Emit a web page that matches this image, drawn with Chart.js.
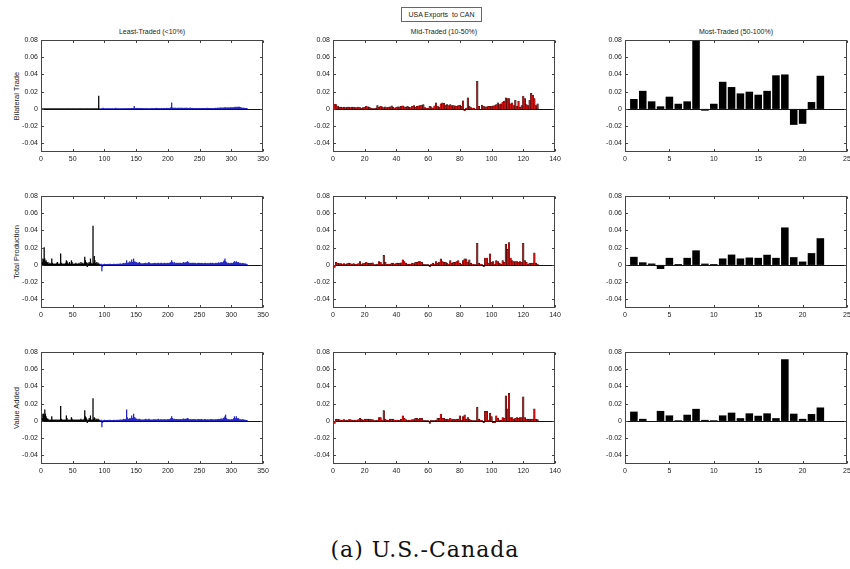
<!DOCTYPE html>
<html>
<head>
<meta charset="utf-8">
<title>USA Exports to CAN</title>
<script src="https://cdn.jsdelivr.net/npm/chart.js@4.4.0/dist/chart.umd.min.js"></script>
<style>
  body { margin: 0; width: 850px; height: 569px; background: #fff; position: relative; overflow: hidden;
         font-family: 'Liberation Sans', Arial, sans-serif; }
  canvas { position: absolute; }
  .txt { position: absolute; white-space: nowrap; color: #222; font-size: 7px; transform: translate(-50%, -50%); }
  .ylab { transform: translate(-50%, -50%) rotate(-90deg); font-size: 7.5px; }
  .legendBox { position: absolute; left: 401px; top: 7px; width: 79px; height: 13px; border: 1px solid #666;
               font-size: 7px; color: #222; text-align: center; line-height: 13px; }
  .caption { position: absolute; left: 0; width: 850px; top: 537px; text-align: center;
             font-family: 'DejaVu Serif', serif; font-size: 22px; letter-spacing: 1px; color: #111; }
</style>
</head>
<body>
<div class="legendBox">USA Exports &nbsp;to CAN</div>
<div class="txt" style="left:152px; top:31px;">Least-Traded (&lt;10%)</div>
<div class="txt" style="left:444px; top:31px;">Mid-Traded (10-50%)</div>
<div class="txt" style="left:736px; top:31px;">Most-Traded (50-100%)</div>
<div class="txt ylab" style="left:16px; top:96px;">Bilateral Trade</div>
<div class="txt ylab" style="left:16px; top:252px;">Total Production</div>
<div class="txt ylab" style="left:16px; top:408px;">Value Added</div>
<div class="caption">(a) U.S.-Canada</div>
<script>
// all bar values below are in thousandths (x 0.001)
const yTicks = [-0.04, -0.02, 0, 0.02, 0.04, 0.06, 0.08];
const leastTicks = [0, 50, 100, 150, 200, 250, 300, 350];
const midTicks = [0, 20, 40, 60, 80, 100, 120, 140];
const mostTicks = [0, 5, 10, 15, 20, 25];
const leastBlack = 92; // first sectors in the least-traded group are drawn black, the rest blue

const leastTrade = [
  0,0,0,0,0, 0,0,0,0,0, 0,0,0,0,0, 0,0,0,0,0, 0,0,0,0,0,
  0,0,0,0,0, 0,0,0,0,0, 0,0,0,0,0, 0,0,0,0,0, 0,0,0,0,0,
  0,0,0,0,0, 0,0,0,0,0, 0,0,0,0,0, 0,0,0,0,0, 0,0,0,0,0,
  0,0,0,0,0, 0,0,0,0,0, 0,0,0,0,0, 15,0,0,0,0.2, 0.3,0.5,1,0.3,0.2,
  0.2,0.2,0.3,0.2,0.2, 0.3,0.2,0.2,0.3,0.2, 0.2,0.2,0.3,0.2,0.2, 0.3,0.2,1,0.2,0.2, 0.3,0.2,0.3,0.2,0.2,
  0.3,0.2,0.2,0.5,0.3, 0.2,0.3,0.3,0.2,0.3, 0.4,0.3,0.5,0.3,0.4, 0.3,0.5,0.6,0.4,0.5, 0.8,3,0.6,0.4,0.5,
  0.6,0.8,0.5,0.4,0.6, 0.8,0.5,0.4,0.6,0.5, 0.3,0.4,0.3,0.3,0.4, 0.5,0.3,0.3,0.4,0.3, 0.2,0.3,0.3,0.4,0.3,
  0.3,0.5,0.8,0.4,0.3, 0.6,0.9,0.6,0.5,0.4, 0.8,0.4,0.5,0.3,0.6, 0.4,0.5,0.7,0.4,0.6, 0.5,0.4,0.9,0.6,0.5,
  0.6,0.7,0.8,1,1.5, 7,1.2,0.8,1,0.8, 0.9,1,0.7,0.8,1, 0.8,0.9,0.7,1,0.8, 0.9,0.8,1,0.7,0.8,
  0.9,0.7,0.8,1,0.9, 0.8,0.7,0.6,0.8,0.9, 1,0.7,0.6,0.8,0.7, 0.6,0.5,0.7,0.6,0.5, 0.6,0.7,0.5,0.6,0.7,
  0.6,0.5,0.7,0.6,0.8, 0.7,0.6,0.8,0.7,0.5, 0.6,1,0.8,0.7,0.6, 0.8,0.7,0.6,0.5,0.7, 0.8,0.6,0.7,0.8,0.9,
  0.8,0.7,0.9,1,0.8, 0.9,1,1.2,0.9,1, 1.1,0.9,1,1.2,1.5, 1.3,1,1.2,1.1,1.3, 1.4,1.2,1,1.5,1.3,
  1.2,1.4,1.6,1.3,1.5, 2,1.8,1.5,2.2,1.7, 1.9,2.5,1.8,1.5,1.4, 1.2,1,0.8,0.9,1, 0.7,0.6,0.8,0.5,0.4
];
const leastProd = [
  2,3,7,6,20, 7,4,5,3,2, 3,1,1,2,1, 1,7,2,1,1, 1,1,1,1,2,
  3,1,1,1,1, 13,2,1,1,1, 1,1,1,2,5, 4,2,1,1,3, 1,1,5,3,1,
  1,1,1,1,2, 1,1,1,1,2, 1,1,3,1,2, 1,1,2,9,5, 3,2,-2,2,1,
  3,1,7,2,1, 1,45,2,10,5, 2,1,3,1,2, 1,1,0.5,0.5,1, -7,-2,0.5,0.5,1,
  0.5,0.8,0.6,0.5,0.8, 0.6,0.5,0.8,1,0.6, 0.5,0.8,0.6,0.7,1, 0.8,0.6,0.7,0.9,0.8, 1,0.8,0.7,0.9,1.2,
  1,0.8,1,1.2,2, 1.5,1.2,1.5,2,5, 2,1.5,2.5,2,4, 2.5,3,6,3,2.5, 7,3,4,2.5,3,
  2.5,2,1.5,2,3, 2,1.5,1,1.5,1, 1.5,1.2,1.5,1.8,2, 1.5,1.2,1.5,2,3, 2,1.5,1.2,1,1.5,
  1.2,1.5,1.8,1.5,2, 1.5,1.2,1.5,1.8,2, 1.5,1.2,1.5,2,2, 1.5,1.2,1.5,1.8,2, 1.5,1.2,1.5,1.8,2,
  1.5,1.8,2,2.5,3, 5,3,2,1.5,3, 2,1.5,1.8,2,1.5, 2,1.8,1.5,2,2, 1.8,1.5,2,2.5,3,
  2,1.8,2.5,3,2, 4,3,2,1.5,2, 1.8,1.5,2,1.8,2, 1.5,1.8,2,1.5,1.2, 1.5,1.8,2,1.5,2,
  1.8,1.5,2,1.8,1.5, 1.2,1.5,1.8,2,1.5, 1.2,1.5,1.8,1.5,1.2, 1.5,2,1.8,1.5,2, 1.8,1.5,1.2,1.5,1.8,
  2,1.5,1.8,2,2.5, 2,1.8,2.5,3,2.5, 2,3,4,5,7, 4,3,2,1.5,2, 1.8,1.5,1.2,1.5,2,
  1.8,1.5,2,3,4, 3,2,4,3,2, 3,2,1.5,2,1.5, 1.2,1.5,1.8,1.5,1.2, 1,1.2,1,0.8,0.5
];
const leastVA = [
  2,3,8,8,6, 13,8,5,3,2, 2,1,1,1,1, 1,5,1,1,1, 1,1,1,1,1,
  1,1,1,1,1, 17,2,1,1,1, 1,1,1,1,6, 3,1,1,1,1, 1,1,4,2,1,
  1,1,1,1,1, 1,1,1,1,1, 1,1,2,1,1, 1,1,2,12,5, 4,2,-2,1,1,
  3,1,6,1,1, 1,26,2,4,3, 1,1,2,1,2, 1,1,0.5,0.5,1, -7,-2,0.5,0.5,1,
  0.5,0.8,0.6,0.5,0.8, 0.6,0.5,0.8,1,0.6, 0.5,0.8,0.6,0.7,1, 0.8,0.6,0.7,0.9,0.8, 1,0.8,0.7,0.9,1.2,
  1,0.8,1,1.2,2, 1.5,1.2,1.5,2,13, 4,1.5,2,2,3, 2,3,6,3,2.5, 8,4,4,2.5,2,
  2,1.5,1.2,1.5,2, 1.5,1.2,1,1.2,1, 1.2,1,1.2,1.5,2, 1.5,1,1.2,1.5,2, 1.5,1.2,1,1,1.2,
  1,1.2,1.5,1.2,1.5, 1.2,1,1.2,1.5,2, 1.2,1,1.2,1.5,1.5, 1.2,1,1.2,1.5,1.5, 1.2,1,1.2,1.5,1.5,
  1.2,1.5,1.8,2,3, 5,3,2,1.5,2, 1.8,1.5,1.5,1.8,1.2, 1.5,1.5,1.2,1.5,1.8, 1.5,1.2,1.5,2,2.5,
  1.8,1.5,2,2.5,1.8, 3,2.5,1.8,1.2,1.5, 1.5,1.2,1.5,1.5,1.8, 1.2,1.5,1.8,1.2,1, 1.2,1.5,1.8,1.2,1.5,
  1.5,1.2,1.8,1.5,1.2, 1,1.2,1.5,1.8,1.2, 1,1.2,1.5,1.2,1, 1.2,1.5,1.5,1.2,1.5, 1.5,1.2,1,1.2,1.5,
  1.5,1.2,1.5,1.8,2, 1.8,1.5,2,2.5,2, 1.8,2.5,3,4,5, 7,3,2,1.2,1.5, 1.5,1.2,1,1.2,1.5,
  1.5,1.2,1.8,3,5, 3,2,5,3,2, 3,2,1.2,1.5,1.2, 1,1.2,1.5,1.2,1, 0.8,1,0.8,0.6,0.4
];

const midTrade = [
  5.5,5,3,2,2, 1.5,2,1.5,2,2, 1.5,2,2,1.5,1.5, 2,1.5,1,1.5,2, 3,2.5,2,1,0.5,
  0.5,1,4,2,3, 2.5,1.5,2.5,1.5,2, 2.5,3.5,2,1,2, 2.5,2.5,3,3.5,2.5, 2,3,2,1.5,3,
  4,2,3,3.5,4, 4.5,5,1.5,1,1, 3,2.5,1,3.5,7, 3,2,6,7,6.5, 4.5,5,4,5,4,
  4,3.5,3,4,4.5, 3,9.5,-2,1,13, 3,1.5,1,1,-1, 32,3,-1,4.5,3, 2.5,2.5,3,3,3,
  3.5,4,5,7,5, 6,8,9,13,12, 12,6,7,4,10, 3,9,2,4,15, 12,5,4,10,18,
  16,12,4,6
];
const midProd = [
  -3,3,2,1.5,1.5, 1,1.5,1,1.5,2, 1.5,1,1.5,1,1, 1.5,4,1,1.5,2, 3,2,2,2,2.5,
  0.5,0.5,1,4,3, 1,11,3,1,1, 1,2,2,1,2, 2,2,2.5,6,4, 2,1,1,1,2,
  1.5,3,3,4,4, 3,1,0.5,0.5,0.5, -2,1,2,1,4, 2,3,7,4,3, 3,2,1,5,2,
  3,3,4,5,2, 1,5,7,7,3, 6,2,1,0.5,0.5, 25,2,1,0.5,-2, 8,8,2,13,3,
  4,1,5,4,2, 1,5,3,24,18, 26,8,5,4,4, 4,3,4,3,25, 5,3,1,2,2,
  2,14,2,1
];
const midVA = [
  -3,2,2,1.5,1, 1,1.5,1,1,1.5, 1.5,1,1,1,1, 1.5,3,2,1,2, 2,2,2,1.5,1.5,
  0.5,0.5,1,4,4, 1,12,2,1,1, 2,2,2,1,1, 1,1,2,6,3, 1.5,1,1,1,1.5,
  1.5,3,3,2,3, 3,1,0.5,0.5,0.5, -3,1,0.5,0.5,1, 3,3,8,3,3, 2,2,1.5,3,1.5,
  2,1.5,2,2,6, 1,5,7,2,4, 2,1,0.5,0.5,0.5, 16,2,1,0.5,-2, 11,11,1,9,5,
  -2,-2,6,3,1, 1,4,3,29,14, 32,4,4,2,3, 4,3,4,4,28, 4,2,2,2,2,
  2,14,2,1.5
];

const mostTrade = [11.5,21,8.8,3,14.2, 6,8.8,90,-2,6, 31.5,25.4,18,20,16.5, 21,39,40,-18.5,-17.3, 8,38.5];
const mostProd = [9.4,3,1.6,-4.7,8.2, 1,8.2,16.9,1.5,1, 7.5,12,7.5,8.6,8.2, 11.8,8.2,43.5,9,3.9, 13.7,31];
const mostVA = [10.8,2.4,0,11.6,6.4, 0.8,7.2,14,1.2,0.8, 6.4,9.6,3.2,8.8,6, 8.8,3.2,71.6,8.4,2.4, 8,15.6];

Chart.defaults.font.family = "'Liberation Sans', Arial, sans-serif";

const PLOT_W = 222, PLOT_H = 112, Y_AXIS_W = 40, X_AXIS_H = 16, PAD_T = 8, PAD_R = 12;
const colLeft = [41, 333, 625];
const rowTop = [40, 196, 352];

// matlab style box: frame, zero line, inward ticks on all sides
const boxPlugin = {
  id: 'matlabBox',
  afterDatasetsDraw(chart) {
    const { ctx, chartArea: a, scales: { x, y } } = chart;
    const L = Math.round(a.left) + 0.5, R = Math.round(a.right) - 0.5;
    const T = Math.round(a.top) + 0.5, B = Math.round(a.bottom) - 0.5;
    ctx.save();
    ctx.lineWidth = 1;
    ctx.strokeStyle = '#111';
    const y0 = Math.round(y.getPixelForValue(0)) + 0.5;
    ctx.beginPath();
    ctx.moveTo(L, y0); ctx.lineTo(R, y0);
    ctx.stroke();
    ctx.strokeStyle = '#444';
    ctx.strokeRect(L, T, R - L, B - T);
    ctx.beginPath();
    x.ticks.forEach(t => {
      const px = Math.round(x.getPixelForValue(t.value)) + 0.5;
      ctx.moveTo(px, B); ctx.lineTo(px, B - 2.5);
      ctx.moveTo(px, T); ctx.lineTo(px, T + 2.5);
    });
    y.ticks.forEach(t => {
      const py = Math.round(y.getPixelForValue(t.value)) + 0.5;
      ctx.moveTo(L, py); ctx.lineTo(L + 2.5, py);
      ctx.moveTo(R, py); ctx.lineTo(R - 2.5, py);
    });
    ctx.stroke();
    ctx.restore();
  }
};

function drawPanel(col, row, values, xTicks, style) {
  const c = document.createElement('canvas');
  c.width = Y_AXIS_W + PLOT_W + PAD_R;
  c.height = PAD_T + PLOT_H + X_AXIS_H;
  c.style.left = (colLeft[col] - Y_AXIS_W) + 'px';
  c.style.top = (rowTop[row] - PAD_T) + 'px';
  document.body.appendChild(c);

  new Chart(c, {
    type: 'bar',
    data: {
      datasets: [{
        data: values.map((v, i) => ({ x: i + 1, y: v / 1000 })),
        backgroundColor: style.color,
        borderColor: '#000',
        borderWidth: style.border || 0,
        barPercentage: style.bar || 0.8,
        categoryPercentage: 1,
        barThickness: style.thickness
      }]
    },
    options: {
      responsive: false,
      devicePixelRatio: 1,
      animation: false,
      layout: { padding: { top: PAD_T, right: PAD_R, left: 0, bottom: 0 } },
      plugins: { legend: { display: false }, tooltip: { enabled: false } },
      scales: {
        x: {
          type: 'linear',
          offset: false,
          min: xTicks[0],
          max: xTicks[xTicks.length - 1],
          afterBuildTicks: s => { s.ticks = xTicks.map(v => ({ value: v })); },
          afterFit: s => { s.height = X_AXIS_H; s.paddingLeft = 0; s.paddingRight = 0; },
          grid: { display: false, drawTicks: false },
          border: { display: false },
          ticks: { autoSkip: false, maxRotation: 0, padding: 3, color: '#222', font: { size: 7 },
                   callback: v => String(v) }
        },
        y: {
          min: -0.05,
          max: 0.08,
          afterBuildTicks: s => { s.ticks = yTicks.map(v => ({ value: v })); },
          afterFit: s => { s.width = Y_AXIS_W; s.paddingTop = 0; s.paddingBottom = 0; },
          grid: { display: false, drawTicks: false },
          border: { display: false },
          ticks: { padding: 3, color: '#222', font: { size: 7 },
                   callback: v => v === 0 ? '0' : v.toFixed(2) }
        }
      }
    },
    plugins: [boxPlugin]
  });
}

const leastStyle = { color: ctx => ctx.dataIndex < leastBlack ? '#000' : '#2626c4', thickness: 0.6 };
const midStyle = { color: '#d01010', border: 0.35, bar: 1 };
const mostStyle = { color: '#000', bar: 0.85 };

drawPanel(0, 0, leastTrade, leastTicks, leastStyle);
drawPanel(1, 0, midTrade, midTicks, midStyle);
drawPanel(2, 0, mostTrade, mostTicks, mostStyle);
drawPanel(0, 1, leastProd, leastTicks, leastStyle);
drawPanel(1, 1, midProd, midTicks, midStyle);
drawPanel(2, 1, mostProd, mostTicks, mostStyle);
drawPanel(0, 2, leastVA, leastTicks, leastStyle);
drawPanel(1, 2, midVA, midTicks, midStyle);
drawPanel(2, 2, mostVA, mostTicks, mostStyle);
</script>
</body>
</html>
